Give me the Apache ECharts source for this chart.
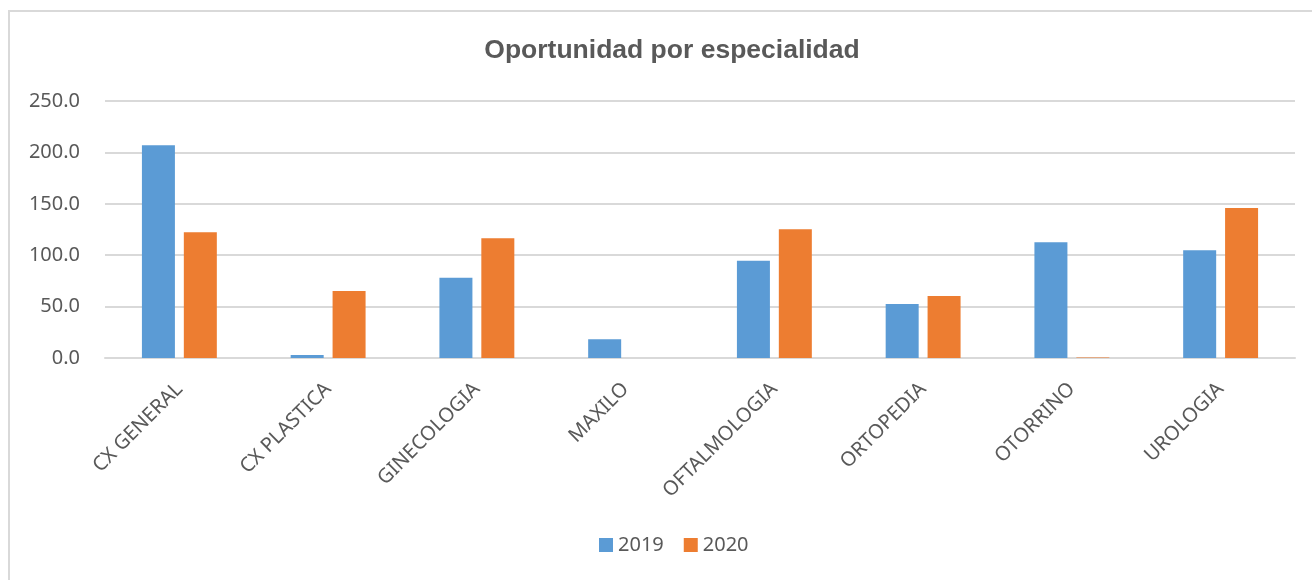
<!DOCTYPE html>
<html>
<head>
<meta charset="utf-8">
<script src="https://cdn.jsdelivr.net/npm/echarts@6/dist/echarts.min.js"></script>
<style>
  html, body { margin: 0; padding: 0; overflow: hidden; background: #fff; }
  #frame {
    position: absolute; left: 8px; top: 10px;
    width: 1320px; height: 600px;
    border-left: 2px solid #d9d9d9; border-top: 2px solid #d9d9d9;
  }
  #main { position: absolute; left: 0; top: 0; width: 1312px; height: 580px; }
</style>
</head>
<body>
<div id="frame"></div>
<div id="main"></div>
<script>
// especialidades
var categorias = ["CX GENERAL", "CX PLASTICA", "GINECOLOGIA", "MAXILO", "OFTALMOLOGIA", "ORTOPEDIA", "OTORRINO", "UROLOGIA"];
// valores
var valores2019 = [207.0, 3.0, 78.0, 18.2, 94.7, 52.5, 112.5, 104.8];
var valores2020 = [122.3, 65.2, 116.4, 0, 125.2, 60.3, 0.5, 145.9];
var marcasY = [0, 50, 100, 150, 200, 250];

var chart = echarts.init(document.getElementById("main"));
chart.setOption({
  animation: false,
  title: {
    text: "Oportunidad por especialidad",
    left: 667,
    textAlign: "center",
    top: 32,
    textStyle: {
      fontFamily: "Liberation Sans",
      fontSize: 26.5,
      fontWeight: "bold",
      color: "#595959"
    }
  },
  legend: {
    data: ["2019", "2020"],
    bottom: 20,
    left: 594,
    itemWidth: 14,
    itemHeight: 14,
    itemGap: 20,
    icon: "rect",
    textStyle: { fontFamily: "Noto Sans", fontSize: 20, color: "#595959" }
  },
  grid: { left: 105, right: 17, top: 101, bottom: 222, containLabel: false },
  xAxis: {
    type: "category",
    data: categorias,
    axisLine: { lineStyle: { color: "#d9d9d9", width: 2 } },
    axisTick: { show: false },
    axisLabel: {
      rotate: 45,
      margin: 28,
      fontFamily: "Noto Sans",
      fontSize: 20,
      color: "#595959"
    }
  },
  yAxis: {
    type: "value",
    min: marcasY[0],
    max: marcasY[marcasY.length - 1],
    interval: 50,
    axisLine: { show: false },
    axisTick: { show: false },
    splitLine: { lineStyle: { color: "#d9d9d9", width: 2 } },
    axisLabel: {
      margin: 25,
      fontFamily: "Noto Sans",
      fontSize: 20,
      color: "#595959",
      formatter: function (v) { return v.toFixed(1); }
    }
  },
  series: [
    {
      name: "2019",
      type: "bar",
      data: valores2019,
      barWidth: 33,
      barGap: "27%",
      itemStyle: { color: "#5b9bd5" }
    },
    {
      name: "2020",
      type: "bar",
      data: valores2020,
      barWidth: 33,
      itemStyle: { color: "#ed7d31" }
    }
  ]
});
</script>
</body>
</html>
